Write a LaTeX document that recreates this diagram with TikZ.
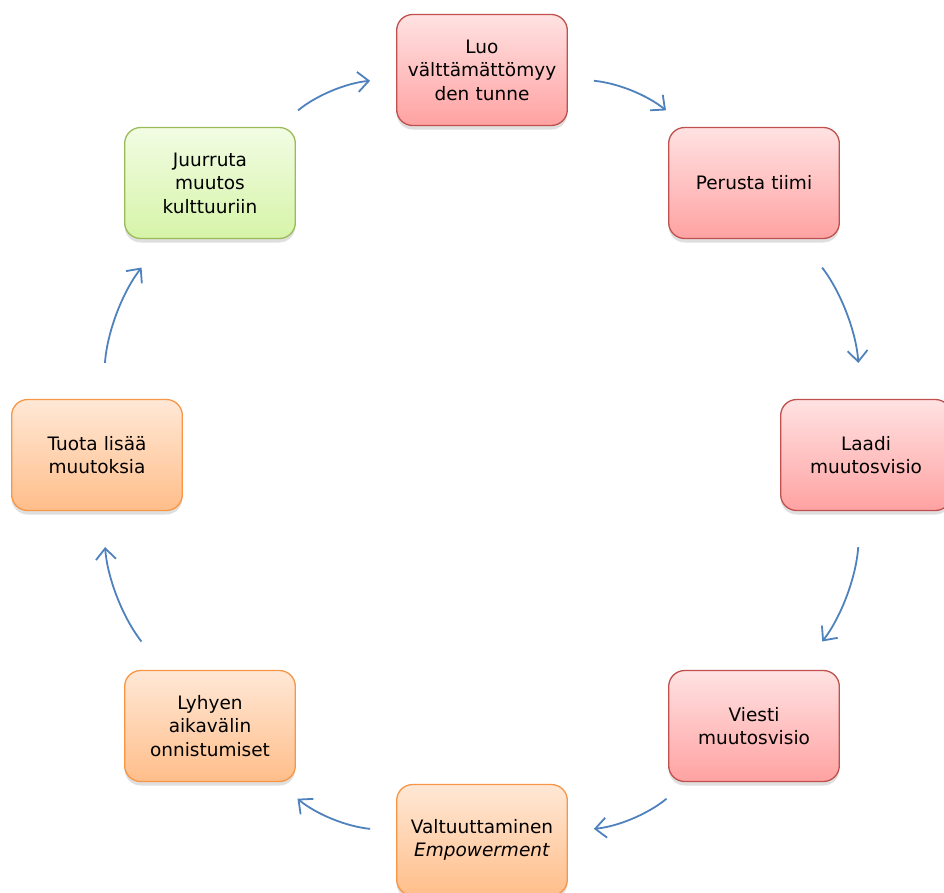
\documentclass[tikz,border=0pt]{standalone}
\usepackage{fontspec}
\setmainfont{DejaVu Sans}
\usepackage{tikz}
\usetikzlibrary{arrows.meta,shadows}

\definecolor{redline}{RGB}{192,80,77}
\definecolor{redtop}{RGB}{255,226,226}
\definecolor{redbot}{RGB}{255,162,162}
\definecolor{greenline}{RGB}{155,187,89}
\definecolor{greentop}{RGB}{242,252,228}
\definecolor{greenbot}{RGB}{214,244,168}
\definecolor{orangeline}{RGB}{247,150,70}
\definecolor{orangetop}{RGB}{255,232,214}
\definecolor{orangebot}{RGB}{255,190,138}
\definecolor{arrowblue}{RGB}{79,129,189}

\tikzset{
	stagebox/.style={draw, line width=1.3pt, rounded corners=16pt,
		minimum width=170pt, minimum height=111pt, text width=164pt,
		align=center, font=\fontsize{18.5}{23.5}\selectfont,
		drop shadow={opacity=0.25, shadow xshift=0pt, shadow yshift=-4pt}},
	redbox/.style={stagebox, draw=redline, top color=redtop, bottom color=redbot},
	greenbox/.style={stagebox, draw=greenline, top color=greentop, bottom color=greenbot},
	orangebox/.style={stagebox, draw=orangeline, top color=orangetop, bottom color=orangebot},
	flow/.style={draw=arrowblue, line width=1.8pt,
		-{Straight Barb[length=11pt,width=20pt]},
		shorten >=26pt, shorten <=26pt, bend left=17},
	steepflow/.style={flow, shorten >=36pt, shorten <=36pt}
}

\begin{document}
\begin{tikzpicture}[x=1pt, y=-1pt]
		\useasboundingbox (0, 0) rectangle (944, 892);

		\draw (482, 70) node[redbox] (luo)    {Luo\\välttämättömyy\\den tunne};
		\draw (754, 183) node[redbox] (perusta)    {Perusta tiimi};
		\draw (866, 455) node[redbox] (laadi)    {Laadi\\muutosvisio};
		\draw (754, 726) node[redbox] (viesti)    {Viesti\\muutosvisio};
		\draw (482, 840) node[orangebox] (valtuu)    {Valtuuttaminen\\\textit{Empowerment}};
		\draw (210, 726) node[orangebox] (lyhyen)    {Lyhyen\\aikavälin\\onnistumiset};
		\draw (97, 455) node[orangebox] (tuota)    {Tuota lisää\\muutoksia};
		\draw (210, 183) node[greenbox] (juurruta)    {Juurruta\\muutos\\kulttuuriin};

		\draw[flow] (luo) to (perusta);
		\draw[steepflow] (perusta) to (laadi);
		\draw[steepflow] (laadi) to (viesti);
		\draw[flow] (viesti) to (valtuu);
		\draw[flow] (valtuu) to (lyhyen);
		\draw[steepflow] (lyhyen) to (tuota);
		\draw[steepflow] (tuota) to (juurruta);
		\draw[flow] (juurruta) to (luo);
	\end{tikzpicture}
\end{document}
